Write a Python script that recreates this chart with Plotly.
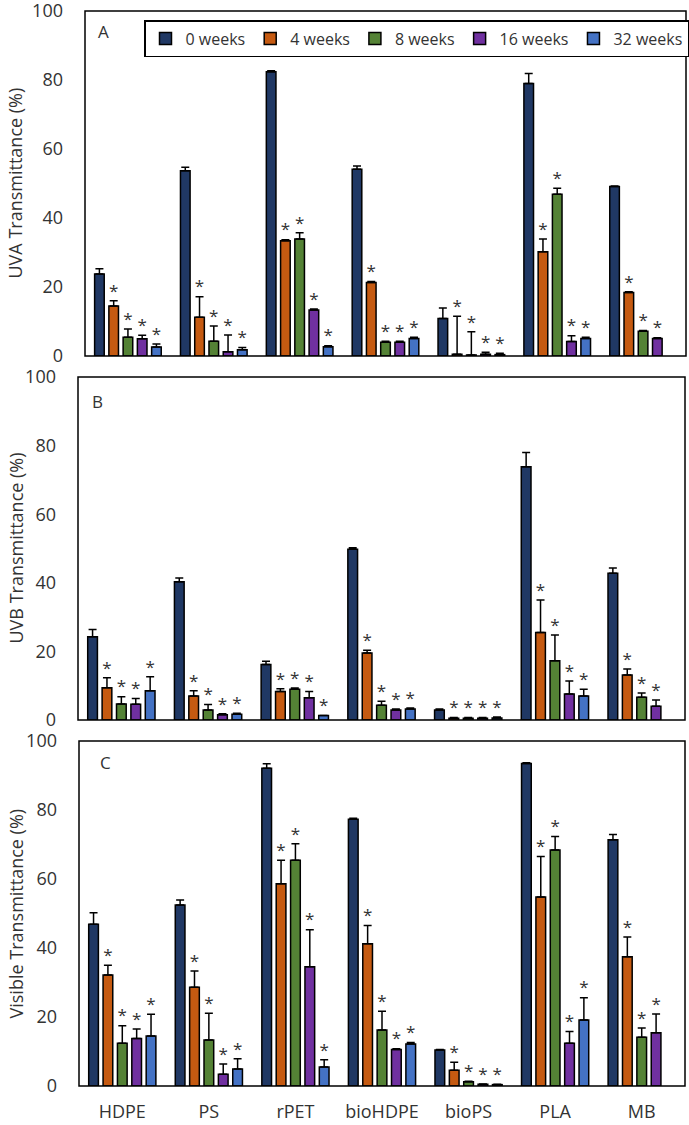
import plotly.graph_objects as go

W, H = 689, 1125

categories = ["HDPE", "PS", "rPET", "bioHDPE", "bioPS", "PLA", "MB"]
weeks = ["0 weeks", "4 weeks", "8 weeks", "16 weeks", "32 weeks"]
colors = ["#203864", "#C55A11", "#548235", "#7030A0", "#4472C4"]
significant = [False, True, True, True, True]
y_ticks = [0, 20, 40, 60, 80, 100]

# Panel A - UVA transmittance (%)
uva_0w = [23.8, 53.7, 82.4, 54.1, 10.9, 79.0, 49.1]
uva_4w = [14.5, 11.2, 33.4, 21.3, 0.5, 30.2, 18.4]
uva_8w = [5.4, 4.3, 33.9, 4.0, 0.3, 46.9, 7.2]
uva_16w = [5.0, 1.2, 13.3, 4.0, 0.5, 4.2, 5.1]
uva_32w = [2.6, 1.8, 2.7, 5.1, 0.4, 5.1, None]
uva_err_0w = [1.5, 1.0, 0.3, 1.0, 3.0, 2.9, 0.2]
uva_err_4w = [1.5, 6.0, 0.3, 0.3, 11.0, 3.7, 0.2]
uva_err_8w = [2.4, 4.4, 1.8, 0.3, 6.7, 1.7, 0.2]
uva_err_16w = [1.0, 4.9, 0.3, 0.3, 0.6, 1.7, 0.2]
uva_err_32w = [0.9, 0.7, 0.3, 0.3, 0.4, 0.3, 0]

# Panel B - UVB transmittance (%)
uvb_0w = [24.3, 40.3, 16.2, 49.8, 2.9, 73.8, 42.8]
uvb_4w = [9.4, 7.0, 8.3, 19.5, 0.5, 25.5, 13.1]
uvb_8w = [4.7, 2.9, 9.0, 4.3, 0.5, 17.3, 6.6]
uvb_16w = [4.6, 1.5, 6.5, 2.9, 0.5, 7.6, 4.0]
uvb_32w = [8.5, 1.7, 1.3, 3.2, 0.6, 7.0, None]
uvb_err_0w = [2.1, 1.1, 0.9, 0.4, 0.3, 4.2, 1.5]
uvb_err_4w = [2.9, 1.5, 0.8, 0.8, 0.2, 9.5, 1.8]
uvb_err_8w = [2.1, 1.6, 0.3, 1.2, 0.2, 7.5, 1.3]
uvb_err_16w = [1.7, 0.3, 1.8, 0.3, 0.2, 3.8, 1.8]
uvb_err_32w = [4.1, 0.3, 0.0, 0.3, 0.3, 2.0, 0]

# Panel C - Visible transmittance (%)
vis_0w = [46.9, 52.5, 92.1, 77.3, 10.4, 93.5, 71.4]
vis_4w = [32.2, 28.6, 58.6, 41.2, 4.6, 54.8, 37.5]
vis_8w = [12.4, 13.3, 65.4, 16.2, 1.2, 68.4, 14.1]
vis_16w = [13.8, 3.4, 34.6, 10.6, 0.5, 12.4, 15.4]
vis_32w = [14.5, 4.9, 5.5, 12.2, 0.4, 19.1, None]
vis_err_0w = [3.3, 1.4, 1.3, 0.3, 0.2, 0.2, 1.5]
vis_err_4w = [2.8, 4.7, 6.8, 5.3, 2.3, 11.7, 5.7]
vis_err_8w = [5.1, 7.8, 4.8, 5.5, 0.2, 3.9, 2.7]
vis_err_16w = [2.7, 3.0, 10.7, 0.2, 0.1, 3.4, 5.5]
vis_err_32w = [6.3, 3.0, 2.1, 0.4, 0.1, 6.5, 0]

panels = [
    dict(letter="A", title="UVA Transmittance (%)",
         vals=[uva_0w, uva_4w, uva_8w, uva_16w, uva_32w],
         errs=[uva_err_0w, uva_err_4w, uva_err_8w, uva_err_16w, uva_err_32w],
         px=(85, 686), py=(11, 356), lpos=(96, 31)),
    dict(letter="B", title="UVB Transmittance (%)",
         vals=[uvb_0w, uvb_4w, uvb_8w, uvb_16w, uvb_32w],
         errs=[uvb_err_0w, uvb_err_4w, uvb_err_8w, uvb_err_16w, uvb_err_32w],
         px=(78, 685), py=(377, 720), lpos=(90, 401)),
    dict(letter="C", title="Visible Transmittance (%)",
         vals=[vis_0w, vis_4w, vis_8w, vis_16w, vis_32w],
         errs=[vis_err_0w, vis_err_4w, vis_err_8w, vis_err_16w, vis_err_32w],
         px=(79, 685), py=(741, 1086), lpos=(98, 763)),
]

FONT = "Open Sans"
TXT = "#333333"
slot = 0.166
bw = 0.112

fig = go.Figure()
layout = dict(width=W, height=H, margin=dict(l=0, r=0, t=0, b=0, autoexpand=False),
              paper_bgcolor="white", plot_bgcolor="white",
              font=dict(family=FONT, color=TXT), showlegend=True,
              shapes=[], annotations=[])

for p_i, p in enumerate(panels):
    sfx = "" if p_i == 0 else str(p_i + 1)
    xa, ya = "x" + sfx, "y" + sfx
    for j, wk in enumerate(weeks):
        xs = [i + (j - 2) * slot for i in range(len(categories))]
        v = p["vals"][j]
        e = p["errs"][j]
        fig.add_trace(go.Bar(
            x=xs, y=v, width=bw, name=wk, xaxis=xa, yaxis=ya,
            marker=dict(color=colors[j], line=dict(color="black", width=1.5)),
            error_y=dict(type="data", array=e, arrayminus=[0] * len(e), symmetric=False,
                         color="black", thickness=1.5, width=4),
            showlegend=(p_i == 0), legendgroup=wk, hoverinfo="skip"))
        if significant[j]:
            sx, sy = [], []
            for i in range(len(categories)):
                if v[i] is not None:
                    sx.append(xs[i])
                    sy.append(v[i] + e[i])
            fig.add_trace(go.Scatter(
                x=sx, y=sy, mode="text", text=["*"] * len(sx),
                textposition="top center", textfont=dict(size=17, color=TXT, family=FONT),
                xaxis=xa, yaxis=ya, showlegend=False, cliponaxis=False, hoverinfo="skip"))
    x0, x1 = p["px"]
    y0, y1 = p["py"]
    layout["xaxis" + sfx] = dict(
        domain=[x0 / W, x1 / W], anchor=ya, range=[-0.5, len(categories) - 0.5],
        tickvals=list(range(len(categories))), ticktext=categories,
        showticklabels=(p_i == 2), ticks="", showgrid=False, zeroline=False, showline=False,
        tickfont=dict(size=18, family=FONT, color=TXT), ticklabelstandoff=13, automargin=False)
    layout["yaxis" + sfx] = dict(
        domain=[1 - y1 / H, 1 - y0 / H], anchor=xa, range=[0, 100], tickvals=y_ticks,
        ticks="", showgrid=False, zeroline=False, showline=False, ticklabeloverflow="allow",
        tickfont=dict(size=18, family=FONT, color=TXT), ticklabelstandoff=21, automargin=False)
    layout["shapes"].append(dict(type="rect", xref=xa + " domain", yref=ya + " domain",
                                 x0=0, x1=1, y0=0, y1=1, line=dict(color="black", width=1.5)))
    layout["annotations"].append(dict(text=p["letter"], x=p["lpos"][0] / W, y=1 - p["lpos"][1] / H,
                                      xref="paper", yref="paper", xanchor="left", yanchor="middle",
                                      showarrow=False, font=dict(size=17, family=FONT, color=TXT)))
    layout["annotations"].append(dict(text=p["title"], x=15 / W, y=1 - (y0 + y1) / 2 / H,
                                      xref="paper", yref="paper", xanchor="center", yanchor="middle",
                                      textangle=-90, showarrow=False,
                                      font=dict(size=18, family=FONT, color=TXT)))

layout["legend"] = dict(orientation="h", x=144 / W, y=1 - 20 / H, xanchor="left", yanchor="top",
                        bordercolor="black", borderwidth=1.5, bgcolor="white",
                        font=dict(size=16, family=FONT, color=TXT), itemwidth=30,
                        traceorder="normal")
fig.update_layout(**layout)
fig.write_html("out.html", config={"displayModeBar": False},
               post_script="document.body.style.margin='0';")
